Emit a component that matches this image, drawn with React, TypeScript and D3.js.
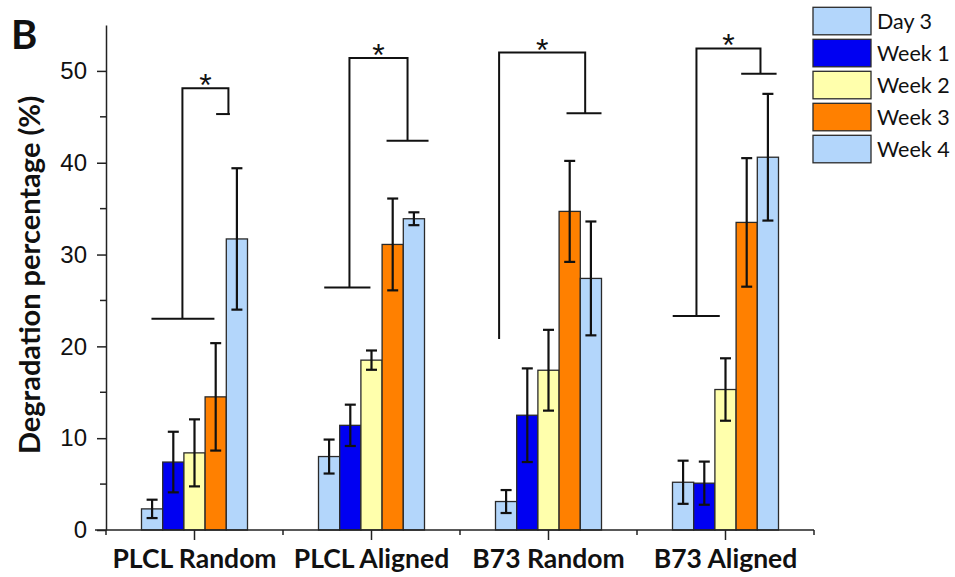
import React, { useEffect, useRef } from 'react';
import * as d3 from 'd3';

const categories = ['PLCL Random', 'PLCL Aligned', 'B73 Random', 'B73 Aligned'];
const seriesNames = ['Day 3', 'Week 1', 'Week 2', 'Week 3', 'Week 4'];
const seriesColors = ['#b3d6fb', '#0000f2', '#ffffac', '#ff8000', '#b3d6fb'];

// mean values per category, one array per time point
const day3 = [2.3, 8.0, 3.1, 5.2];
const week1 = [7.4, 11.4, 12.5, 5.1];
const week2 = [8.4, 18.5, 17.4, 15.3];
const week3 = [14.5, 31.1, 34.7, 33.5];
const week4 = [31.7, 33.9, 27.4, 40.6];

// standard deviations
const day3Err = [1.0, 1.85, 1.25, 2.35];
const week1Err = [3.3, 2.25, 5.1, 2.35];
const week2Err = [3.65, 1.05, 4.4, 3.4];
const week3Err = [5.85, 5.0, 5.5, 7.0];
const week4Err = [7.7, 0.7, 6.2, 6.9];

const yTicks = [0, 10, 20, 30, 40, 50];
const yMinorTicks = [5, 15, 25, 35, 45];

// significance brackets: x in bar-slot units within the group, y in %
const brackets = [
  { group: 0, xL: 1.43, xR: 3.6, top: 48.1, leftEnd: 23.0, rightEnd: 45.3, leftCap: [-0.03, 2.94], rightCap: [3.02, 3.67] },
  { group: 1, xL: 0.96, xR: 3.7, top: 51.4, leftEnd: 26.4, rightEnd: 42.4, leftCap: [-0.23, 1.95], rightCap: [2.71, 4.69] },
  { group: 2, xL: -0.33, xR: 3.73, top: 52.0, leftEnd: 20.8, rightEnd: 45.4, leftCap: null, rightCap: [2.85, 4.5] },
  { group: 3, xL: 0.63, xR: 3.65, top: 52.45, leftEnd: 23.3, rightEnd: 49.7, leftCap: [-0.49, 1.73], rightCap: [2.74, 4.41] },
];

export default function App() {
  const svgRef = useRef<SVGSVGElement>(null);

  useEffect(() => {
    const svg = d3.select(svgRef.current);
    svg.selectAll('*').remove();

    const values = [day3, week1, week2, week3, week4];
    const errs = [day3Err, week1Err, week2Err, week3Err, week4Err];
    const data = categories.flatMap((c, ci) =>
      seriesNames.map((s, si) => ({ cat: c, ci, si, v: values[si][ci], e: errs[si][ci] }))
    );

    const x0 = d3.scaleBand().domain(categories).range([106, 814]);
    const slot = d3.scaleLinear().domain([-0.5, 4.5]).range([35.5, 141.5]);
    const x1 = d3.scaleBand().domain(seriesNames).range([35.5, 141.5]);
    const y = d3.scaleLinear().domain([0, 55]).range([530, 25]);
    const axisColor = '#222';

    // bars
    svg.append('g')
      .selectAll('rect')
      .data(data)
      .enter()
      .append('rect')
      .attr('x', d => x0(d.cat)! + x1(seriesNames[d.si])!)
      .attr('y', d => y(d.v))
      .attr('width', x1.bandwidth())
      .attr('height', d => y(0) - y(d.v))
      .attr('fill', d => seriesColors[d.si])
      .attr('stroke', '#2a2a2a')
      .attr('stroke-width', 1.3);

    // error bars
    const eb = svg.append('g').attr('stroke', '#111').attr('stroke-width', 2.2);
    data.forEach(d => {
      const cx = x0(d.cat)! + x1(seriesNames[d.si])! + x1.bandwidth() / 2;
      eb.append('line').attr('x1', cx).attr('x2', cx).attr('y1', y(d.v + d.e)).attr('y2', y(d.v - d.e));
      [d.v + d.e, d.v - d.e].forEach(val => {
        eb.append('line').attr('x1', cx - 5.5).attr('x2', cx + 5.5).attr('y1', y(val)).attr('y2', y(val));
      });
    });

    // significance brackets
    const bg = svg.append('g').attr('stroke', '#111').attr('stroke-width', 2).attr('fill', 'none');
    brackets.forEach(b => {
      const gx = x0(categories[b.group])!;
      const px = (s: number) => gx + slot(s);
      bg.append('path').attr('d', `M${px(b.xL)},${y(b.leftEnd)}V${y(b.top)}H${px(b.xR)}V${y(b.rightEnd)}`);
      if (b.leftCap) {
        bg.append('line').attr('x1', px(b.leftCap[0])).attr('x2', px(b.leftCap[1])).attr('y1', y(b.leftEnd)).attr('y2', y(b.leftEnd));
      }
      bg.append('line').attr('x1', px(b.rightCap[0])).attr('x2', px(b.rightCap[1])).attr('y1', y(b.rightEnd)).attr('y2', y(b.rightEnd));
      svg.append('text')
        .attr('x', (px(b.xL) + px(b.xR)) / 2)
        .attr('y', y(b.top) + 8)
        .attr('text-anchor', 'middle')
        .attr('font-family', 'Liberation Sans, Arial, sans-serif')
        .attr('font-size', 32)
        .attr('fill', '#111')
        .text('*');
    });

    // y axis
    const yAxis = svg.append('g').attr('transform', 'translate(106,0)');
    yAxis.call(d3.axisLeft(y).tickValues(yTicks).tickSize(9).tickPadding(10).tickSizeOuter(0));
    yAxis.selectAll('.tick text')
      .attr('font-family', 'Liberation Sans, Arial, sans-serif')
      .attr('font-size', 24)
      .attr('fill', '#111');
    yAxis.selectAll('.tick line').attr('stroke', axisColor).attr('stroke-width', 1.5);
    yAxis.select('.domain').attr('stroke', axisColor).attr('stroke-width', 1.5);
    yAxis.selectAll('.minor')
      .data(yMinorTicks)
      .enter()
      .append('line')
      .attr('x1', -6).attr('x2', 0)
      .attr('y1', d => y(d)).attr('y2', d => y(d))
      .attr('stroke', axisColor).attr('stroke-width', 1.5);

    // x axis
    const xAxis = svg.append('g');
    xAxis.append('line').attr('x1', 95).attr('x2', 814).attr('y1', y(0)).attr('y2', y(0))
      .attr('stroke', axisColor).attr('stroke-width', 1.5);
    const bounds = categories.map(c => x0(c)!).concat([x0.range()[1]]);
    xAxis.selectAll('.bnd').data(bounds).enter().append('line')
      .attr('x1', d => d).attr('x2', d => d).attr('y1', y(0)).attr('y2', y(0) + 5)
      .attr('stroke', axisColor).attr('stroke-width', 1.5);
    xAxis.selectAll('.ctr').data(categories).enter().append('line')
      .attr('x1', d => x0(d)! + x0.bandwidth() / 2).attr('x2', d => x0(d)! + x0.bandwidth() / 2)
      .attr('y1', y(0)).attr('y2', y(0) + 10)
      .attr('stroke', axisColor).attr('stroke-width', 1.5);
    xAxis.selectAll('.lbl').data(categories).enter().append('text')
      .attr('x', d => x0(d)! + x0.bandwidth() / 2)
      .attr('y', 568)
      .attr('text-anchor', 'middle')
      .attr('font-family', 'Lato, sans-serif')
      .attr('font-weight', 'bold')
      .attr('font-size', 26.5)
      .attr('fill', '#111')
      .text(d => d);

    // y label
    svg.append('text')
      .attr('transform', 'translate(40,275) rotate(-90)')
      .attr('text-anchor', 'middle')
      .attr('font-family', 'Lato, sans-serif')
      .attr('font-weight', 'bold')
      .attr('font-size', 29)
      .attr('fill', '#111')
      .text('Degradation percentage (%)');

    // panel letter
    svg.append('text')
      .attr('x', 11)
      .attr('y', 49)
      .attr('font-family', 'Lato, sans-serif')
      .attr('font-weight', 'bold')
      .attr('font-size', 40)
      .attr('fill', '#111')
      .text('B');

    // legend
    const lg = svg.append('g');
    seriesNames.forEach((s, i) => {
      const top = 7.3 + i * 32;
      lg.append('rect').attr('x', 813).attr('y', top).attr('width', 58).attr('height', 27.5)
        .attr('fill', seriesColors[i]).attr('stroke', '#2a2a2a').attr('stroke-width', 1.3);
      lg.append('text').attr('x', 877).attr('y', top + 14).attr('dy', '0.35em')
        .attr('font-family', 'Lato, sans-serif').attr('font-size', 21.5).attr('fill', '#111')
        .text(s);
    });
  }, []);

  return (
    <svg ref={svgRef} width={955} height={577} style={{ position: 'absolute', left: 0, top: 0 }} />
  );
}
